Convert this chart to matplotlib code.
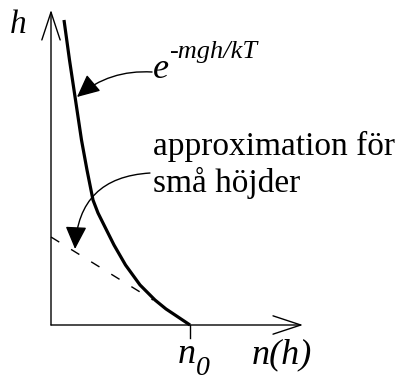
import matplotlib
matplotlib.use("Agg")
import matplotlib.pyplot as plt

# curve n(h)/n0 vs h, h in units of the tangent intercept
n_curve = [0.0935, 0.1331, 0.1763, 0.2194, 0.2590, 0.3022, 0.3381, 0.3813,
           0.4532, 0.5360, 0.6403, 0.7482, 0.8273, 0.8921, 1.0]
h_curve = [3.466, 3.011, 2.557, 2.102, 1.761, 1.420, 1.273, 1.136,
           0.909, 0.682, 0.455, 0.284, 0.182, 0.114, 0.0]

# dashed linear approximation for small heights
n_approx = [0.0, 0.734]
h_approx = [1.0, 0.284]

n0 = 1.0
n_axis_end = 1.813
h_axis_end = 3.58

serif = ['Liberation Serif', 'DejaVu Serif']

fig = plt.figure(figsize=(4.01, 3.85), dpi=100)
ax = fig.add_axes([0, 0, 1, 1])
ax.set_xlim(-51 / 139, 350 / 139)
ax.set_ylim(-60 / 88, 325 / 88)
ax.axis('off')

# axes with open arrow heads
axis_arrow = dict(arrowstyle='->,head_length=1.0,head_width=0.33',
                  lw=1.0, color='black', mutation_scale=20,
                  shrinkA=0, shrinkB=0)
ax.annotate('', xy=(0, h_axis_end), xytext=(0, 0), arrowprops=axis_arrow)
ax.annotate('', xy=(n_axis_end, 0), xytext=(0, 0), arrowprops=axis_arrow)
ax.plot([n0, n0], [0, -0.15], color='black', lw=1.0)

# curve and approximation
ax.plot(n_curve, h_curve, color='black', lw=2.3, solid_capstyle='butt',
        solid_joinstyle='round')
ax.plot(n_approx, h_approx, color='black', lw=1.0, linestyle=(0, (7, 10)))

# labels
ax.text(-0.295, 3.318, 'h', family=serif, style='italic', fontsize=24, va='baseline')
ax.text(0.914, -0.432, 'n', family=serif, style='italic', fontsize=26, va='baseline')
ax.text(1.04, -0.568, '0', family=serif, style='italic', fontsize=20, va='baseline')
ax.text(1.446, -0.432, 'n(h)', family=serif, style='italic', fontsize=26, va='baseline')
ax.text(0.734, 2.807, 'e', family=serif, style='italic', fontsize=26, va='baseline')
ax.text(0.846, 3.034, '-mgh/kT', family=serif, style='italic', fontsize=19, va='baseline')
ax.text(0.734, 1.932, 'approximation för', family=serif, fontsize=24, va='baseline')
ax.text(0.734, 1.511, 'små höjder', family=serif, fontsize=24, va='baseline')

# pointer arrows
pointer = dict(arrowstyle='-|>,head_length=0.7,head_width=0.33',
               lw=1.0, color='black', mutation_scale=20,
               shrinkA=0, shrinkB=0)
ax.annotate('', xy=(0.187, 2.591), xytext=(0.727, 2.875),
            arrowprops=dict(pointer, connectionstyle='arc3,rad=0.2'))
ax.annotate('', xy=(0.173, 0.864), xytext=(0.712, 1.727),
            arrowprops=dict(pointer, connectionstyle='arc3,rad=0.45'))

fig.savefig('out.png', dpi=100)
